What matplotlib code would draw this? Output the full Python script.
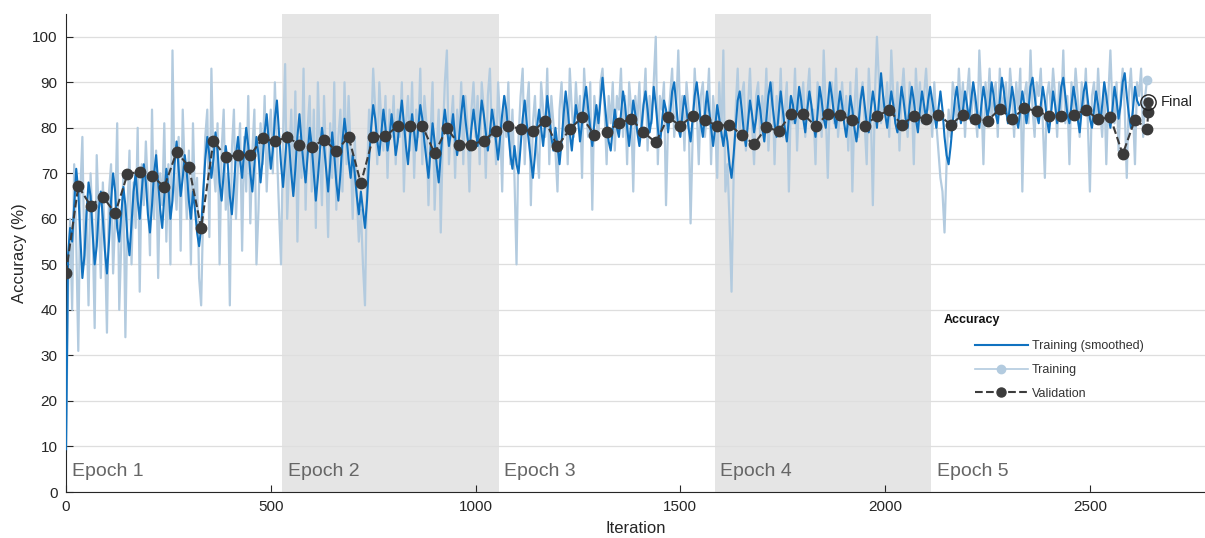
import numpy as np
import matplotlib.pyplot as plt

plt.rcParams['font.family'] = ['Liberation Sans', 'DejaVu Sans']

# Training accuracy, one value every 5 iterations
train_raw = [
    9, 45, 60, 40, 72, 55, 31, 66, 78, 50, 62, 41, 70, 58, 36, 74, 60, 47, 68, 55,
    35, 66, 72, 48, 60, 81, 40, 55, 70, 34, 62, 75, 50, 68, 58, 80, 44, 72, 63, 77,
    66, 52, 84, 60, 75, 47, 70, 63, 81, 55, 72, 50, 97, 68, 62, 78, 53, 84, 70, 60,
    75, 50, 81, 63, 69, 47, 41, 62, 78, 84, 56, 93, 72, 66, 81, 50, 75, 84, 62, 70,
    41, 75, 84, 60, 72, 81, 53, 78, 66, 87, 59, 75, 84, 50, 62, 81, 72, 87, 66, 78,
    84, 70, 90, 75, 62, 50, 78, 94, 60, 72, 84, 66, 88, 55, 78, 69, 93, 62, 80, 87,
    66, 84, 58, 90, 75, 63, 87, 72, 56, 81, 69, 90, 62, 78, 84, 66, 90, 72, 87, 75,
    60, 78, 65, 55, 62, 50, 41, 69, 84, 78, 93, 84, 72, 90, 81, 75, 87, 69, 84, 78,
    87, 72, 84, 78, 90, 66, 81, 87, 75, 90, 69, 84, 78, 93, 72, 87, 81, 63, 78, 90,
    62, 75, 84, 57, 78, 90, 97, 72, 81, 87, 69, 84, 78, 90, 72, 87, 81, 66, 84, 90,
    78, 87, 72, 90, 84, 69, 87, 93, 78, 84, 72, 90, 81, 66, 87, 78, 90, 72, 84, 69,
    50, 78, 87, 93, 72, 84, 90, 63, 81, 87, 75, 69, 90, 84, 78, 93, 72, 87, 81, 75,
    66, 84, 90, 78, 87, 72, 93, 84, 78, 90, 81, 87, 69, 93, 84, 78, 90, 62, 87, 81,
    78, 90, 93, 84, 72, 87, 81, 90, 75, 87, 84, 93, 78, 87, 72, 90, 84, 66, 87, 81,
    90, 78, 84, 93, 75, 87, 81, 90, 100, 72, 87, 84, 90, 63, 81, 87, 93, 78, 84, 97,
    81, 87, 75, 90, 84, 59, 78, 93, 84, 72, 87, 90, 78, 84, 93, 72, 87, 81, 69, 90,
    78, 97, 66, 72, 60, 44, 69, 84, 93, 78, 87, 90, 75, 84, 93, 81, 72, 87, 90, 78,
    87, 81, 93, 75, 84, 90, 72, 87, 81, 93, 78, 84, 90, 66, 87, 81, 93, 75, 87, 84,
    90, 78, 87, 93, 81, 84, 72, 90, 87, 78, 97, 84, 69, 87, 90, 81, 93, 78, 84, 90,
    81, 87, 75, 90, 66, 84, 93, 78, 87, 90, 81, 72, 93, 84, 63, 87, 100, 90, 81, 87,
    84, 90, 78, 97, 87, 81, 90, 75, 87, 93, 84, 78, 90, 87, 72, 93, 84, 90, 81, 87,
    93, 84, 87, 78, 90, 81, 75, 69, 66, 57, 72, 84, 78, 90, 87, 81, 93, 84, 90, 78,
    87, 93, 81, 90, 84, 78, 97, 87, 72, 90, 84, 93, 81, 87, 90, 78, 93, 84, 87, 90,
    81, 93, 87, 78, 90, 84, 93, 66, 87, 90, 81, 97, 84, 78, 90, 87, 93, 81, 69, 87,
    90, 84, 93, 87, 78, 90, 84, 97, 81, 87, 72, 90, 84, 93, 87, 78, 90, 84, 93, 81,
    66, 87, 90, 81, 93, 84, 78, 90, 72, 87, 97, 84, 81, 90, 75, 87, 93, 84, 69, 87,
    93, 84, 72, 90, 87, 93, 78, 87, 91,
]

# Smoothed training accuracy, also every 5 iterations
train_smooth = [
    9.4, 52, 58, 55, 63, 71, 66, 56, 47, 52, 61, 68, 65, 57, 50, 54, 62, 66, 60, 53,
    48, 55, 64, 70, 66, 58, 55, 61, 67, 63, 56, 52, 59, 66, 70, 64, 60, 66, 72, 68,
    61, 57, 63, 70, 74, 68, 62, 58, 65, 71, 67, 60, 64, 72, 77, 71, 65, 69, 74, 70,
    64, 60, 66, 62, 57, 54, 58, 66, 73, 78, 74, 69, 73, 79, 75, 68, 64, 70, 76, 72,
    65, 61, 67, 74, 78, 73, 69, 75, 80, 76, 70, 66, 72, 78, 74, 68, 73, 79, 83, 77,
    71, 75, 82, 86, 79, 72, 67, 73, 79, 76, 70, 65, 71, 78, 83, 77, 72, 68, 74, 80,
    76, 70, 64, 69, 75, 80, 76, 71, 66, 72, 79, 74, 68, 64, 70, 77, 82, 78, 73, 69,
    74, 70, 65, 61, 66, 62, 58, 64, 73, 80, 85, 82, 77, 74, 79, 84, 80, 75, 78, 83,
    79, 74, 77, 82, 86, 81, 76, 72, 78, 83, 79, 75, 80, 85, 82, 77, 73, 69, 75, 81,
    77, 72, 68, 74, 80, 84, 80, 76, 79, 83, 78, 74, 78, 83, 87, 82, 78, 75, 80, 84,
    80, 76, 81, 86, 83, 79, 75, 79, 84, 81, 77, 73, 78, 83, 87, 84, 79, 74, 71, 76,
    72, 70, 76, 82, 86, 81, 77, 73, 69, 74, 80, 84, 80, 76, 81, 87, 83, 78, 75, 80,
    76, 72, 77, 83, 88, 84, 79, 75, 80, 85, 82, 77, 81, 86, 89, 84, 80, 76, 81, 85,
    81, 86, 91, 86, 81, 77, 75, 80, 84, 80, 78, 83, 88, 85, 80, 76, 81, 86, 83, 79,
    76, 80, 85, 88, 84, 79, 82, 89, 85, 80, 76, 81, 86, 84, 79, 83, 88, 90, 85, 80,
    78, 83, 87, 84, 80, 77, 82, 87, 90, 86, 81, 78, 83, 88, 84, 80, 76, 80, 85, 82,
    79, 76, 80, 77, 72, 69, 74, 80, 86, 88, 84, 79, 76, 81, 86, 83, 79, 82, 87, 84,
    80, 77, 82, 87, 90, 85, 81, 78, 83, 88, 84, 80, 77, 82, 87, 85, 81, 84, 89, 86,
    82, 79, 84, 88, 85, 81, 78, 83, 89, 86, 82, 80, 85, 90, 87, 83, 80, 84, 88, 85,
    81, 78, 82, 87, 84, 80, 77, 81, 86, 89, 85, 81, 79, 84, 88, 85, 80, 86, 92, 87,
    83, 80, 84, 88, 85, 81, 79, 84, 89, 86, 82, 80, 85, 89, 86, 82, 79, 84, 88, 85,
    82, 86, 89, 86, 83, 80, 84, 88, 84, 78, 74, 72, 76, 81, 86, 89, 85, 81, 84, 88,
    85, 82, 86, 90, 87, 83, 80, 85, 89, 86, 82, 85, 90, 87, 83, 81, 86, 91, 88, 84,
    81, 85, 89, 86, 82, 80, 84, 88, 85, 81, 84, 89, 91, 87, 83, 81, 85, 89, 86, 82,
    79, 83, 88, 85, 81, 84, 89, 91, 87, 83, 81, 85, 89, 86, 82, 79, 84, 88, 90, 86,
    82, 80, 84, 88, 85, 81, 85, 90, 87, 83, 80, 84, 89, 86, 82, 85, 90, 92, 87, 83,
    80, 84, 89, 86, 85,
]

# Validation accuracy every 30 iterations, then the last check
val_iter = list(range(0, 2641, 30)) + [2642]
val_acc = [
    48.1, 67.2, 62.9, 64.9, 61.2, 69.8, 70.4, 69.5, 67.0, 74.7, 71.5, 58.0, 77.2, 73.6, 74.0, 74.0,
    77.7, 77.0, 78.0, 76.3, 75.8, 77.4, 74.9, 78.0, 67.8, 78.0, 78.2, 80.4, 80.3, 80.4, 74.4, 79.9,
    76.3, 76.3, 77.2, 79.4, 80.5, 79.7, 79.2, 81.6, 75.9, 79.7, 82.3, 78.5, 79.1, 81.0, 82.0, 79.0,
    76.8, 82.3, 80.5, 82.6, 81.8, 80.4, 80.7, 78.4, 76.4, 80.1, 79.3, 83.0, 83.0, 80.4, 83.0, 82.8,
    81.8, 80.5, 82.6, 83.9, 80.7, 82.5, 82.0, 82.9, 80.7, 82.9, 82.0, 81.6, 84.1, 82.0, 84.3, 83.7,
    82.6, 82.5, 82.9, 83.9, 81.9, 82.3, 74.2, 81.8, 79.8, 83.4,
]
final_iter = 2642
final_acc = 85.6

iters_per_epoch = 528
n_epochs = 5

raw_iter = np.arange(len(train_raw)) * 5
smooth_iter = np.arange(len(train_smooth)) * 5

fig = plt.figure(figsize=(12.05, 5.38), dpi=100)
ax = fig.add_axes([66 / 1205, 46 / 538, 1 - 66 / 1205, 478 / 538])

# epoch shading and labels
for e in range(n_epochs):
    start = e * iters_per_epoch
    if e % 2 == 1:
        ax.axvspan(start, start + iters_per_epoch, color='#e5e5e5', zorder=0, lw=0)
    ax.text(start + 14, 4.4, f'Epoch {e + 1}', fontsize=14, color='#666666', va='center')

ax.yaxis.grid(True, color='#dedede', lw=0.9, zorder=0.5)

ax.plot(raw_iter, train_raw, color='#b3cbdf', lw=1.6, zorder=2)
ax.plot(smooth_iter, train_smooth, color='#1072c0', lw=1.5, zorder=3)
ax.plot(raw_iter[-1], train_raw[-1] - 0.4, 'o', color='#b3cbdf', ms=6, zorder=3)
ax.plot(val_iter, val_acc, '--', color='#3c3c3c', lw=1.5, marker='o', ms=7.5,
        markerfacecolor='#3a3a3a', markeredgecolor='#3a3a3a', zorder=4)
ax.plot(final_iter, final_acc, 'o', ms=11, markerfacecolor='none',
        markeredgecolor='#222222', mew=1.0, zorder=5)
ax.plot(final_iter, final_acc, 'o', ms=6.5, color='#3a3a3a', zorder=5)
ax.text(final_iter + 30, final_acc, 'Final', fontsize=10.5, color='#222222', va='center')

ax.set_xlim(0, 2781)
ax.set_ylim(0, 105)
ax.set_yticks(np.arange(0, 101, 10))
ax.set_xticks([0, 500, 1000, 1500, 2000, 2500])
ax.tick_params(direction='in', length=5, width=0.8, colors='#262626', labelsize=11, pad=6)
for side in ['top', 'right']:
    ax.spines[side].set_visible(False)
for side in ['left', 'bottom']:
    ax.spines[side].set_color('#262626')
    ax.spines[side].set_linewidth(0.8)
ax.set_xlabel('Iteration', fontsize=12, color='#262626', labelpad=5)
ax.set_ylabel('Accuracy (%)', fontsize=12, color='#262626', labelpad=4)

# legend
h_smooth, = ax.plot([], [], color='#1072c0', lw=1.5)
h_raw, = ax.plot([], [], color='#b3cbdf', lw=1.2, marker='o', ms=6)
h_val, = ax.plot([], [], '--', color='#3c3c3c', lw=1.5, marker='o', ms=6.5)
leg = ax.legend([h_smooth, h_raw, h_val], ['Training (smoothed)', 'Training', 'Validation'],
                loc='upper left', bbox_to_anchor=(975 / 1205, 1 - 340 / 538),
                bbox_transform=fig.transFigure, frameon=False, fontsize=9,
                handlelength=4.2, handletextpad=0.35, labelspacing=0.95,
                borderpad=0, borderaxespad=0)
for t in leg.get_texts():
    t.set_color('#333333')
fig.text(944 / 1205, 1 - 320 / 538, 'Accuracy', fontsize=9, fontweight='bold',
         color='#111111', va='center')

fig.savefig('out.png', dpi=100)
